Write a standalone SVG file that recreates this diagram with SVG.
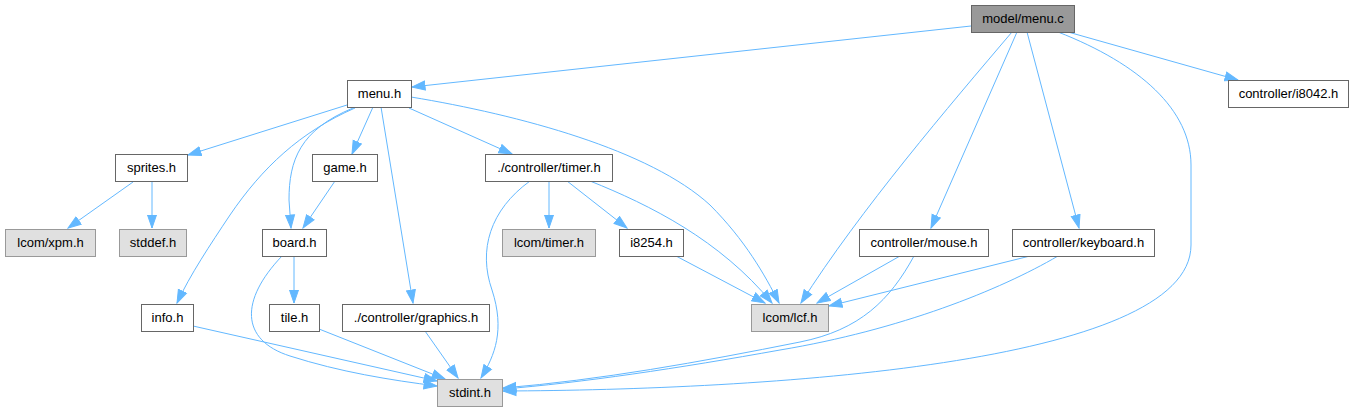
<svg xmlns="http://www.w3.org/2000/svg" width="1354" height="411" viewBox="0 0 1354 411">
<style>
.n rect{fill:#ffffff;stroke:#666666;stroke-width:1}
.g rect{fill:#e0e0e0;stroke:#999999;stroke-width:1}
.r rect{fill:#999999;stroke:#666666;stroke-width:1}
text{font-family:"Liberation Sans",Arial,sans-serif;font-size:13px;fill:#000000;text-anchor:middle}
#edges path{fill:none;stroke:#63b8ff;stroke-width:1;marker-end:url(#ah)}
</style>
<defs>
<marker id="ah" markerUnits="userSpaceOnUse" markerWidth="15" markerHeight="12" viewBox="0 0 15 12" refX="13.5" refY="6" orient="auto">
<path d="M0.5,1.5 L13.5,6 L0.5,10.5 z" fill="#63b8ff" stroke="#63b8ff" stroke-width="1"/>
</marker>
</defs>
<rect x="0" y="0" width="1354" height="411" fill="#ffffff"/>
<g id="edges">
<path d="M971,26 L412,87"/>
<path d="M1012,32 C950,105 860,210 801,303"/>
<path d="M1017,32 L931,228"/>
<path d="M1027,32 L1079,228"/>
<path d="M1058,32 C1140,64 1191,110 1191,165 L1191,245 C1191,365 760,390 503,391"/>
<path d="M1068,32 L1238,80"/>
<path d="M347,105 L188,155"/>
<path d="M353,108 C300,130 289,160 289,200 L291,228"/>
<path d="M355,108 C300,132 262,168 230,215 C210,245 190,275 177,303"/>
<path d="M373,107 L352,154"/>
<path d="M381,107 L413,303"/>
<path d="M409,108 L512,154"/>
<path d="M411,97 C520,115 650,150 710,205 C745,240 765,275 779,303"/>
<path d="M133,182 L68,228"/>
<path d="M152,181 L152,228"/>
<path d="M335,181 L303,228"/>
<path d="M294,256 L294,303"/>
<path d="M282,256 C240,300 240,340 290,356 C340,372 390,380 437,386"/>
<path d="M193,326 L437,381"/>
<path d="M319,329 L445,379"/>
<path d="M425,331 L458,378"/>
<path d="M549,181 L549,228"/>
<path d="M567,181 L627,228"/>
<path d="M590,181 C650,205 720,240 772,303"/>
<path d="M530,181 C490,210 478,250 492,290 C505,330 495,355 481,378"/>
<path d="M676,256 L765,303"/>
<path d="M900,256 L817,303"/>
<path d="M914,256 C890,300 860,330 800,342 C700,362 600,380 503,388"/>
<path d="M1030,256 L829,306"/>
<path d="M1058,256 C1000,290 900,330 780,350 C680,368 580,383 503,389"/>
</g>
<g id="menu_c" class="r"><rect x="971.5" y="5.5" width="103" height="27"/><text x="1023" y="23">model/menu.c</text></g>
<g id="menu_h" class="n"><rect x="347.5" y="80.5" width="64" height="27"/><text x="379.5" y="98">menu.h</text></g>
<g id="i8042_h" class="n"><rect x="1228.5" y="80.5" width="120" height="27"/><text x="1288.5" y="98">controller/i8042.h</text></g>
<g id="sprites_h" class="n"><rect x="115.5" y="154.5" width="72" height="27"/><text x="151.5" y="172">sprites.h</text></g>
<g id="game_h" class="n"><rect x="312.5" y="154.5" width="65" height="27"/><text x="345" y="172">game.h</text></g>
<g id="timer_h" class="n"><rect x="485.5" y="154.5" width="127" height="27"/><text x="549" y="172">./controller/timer.h</text></g>
<g id="xpm_h" class="g"><rect x="5.5" y="229.5" width="90" height="27"/><text x="50.5" y="247">lcom/xpm.h</text></g>
<g id="stddef_h" class="g"><rect x="119.5" y="229.5" width="67" height="27"/><text x="153" y="247">stddef.h</text></g>
<g id="board_h" class="n"><rect x="262.5" y="229.5" width="64" height="27"/><text x="294.5" y="247">board.h</text></g>
<g id="lcom_timer_h" class="g"><rect x="502.5" y="229.5" width="93" height="27"/><text x="549" y="247">lcom/timer.h</text></g>
<g id="i8254_h" class="n"><rect x="619.5" y="229.5" width="64" height="27"/><text x="651.5" y="247">i8254.h</text></g>
<g id="mouse_h" class="n"><rect x="859.5" y="229.5" width="129" height="27"/><text x="924" y="247">controller/mouse.h</text></g>
<g id="keyboard_h" class="n"><rect x="1012.5" y="229.5" width="142" height="27"/><text x="1083.5" y="247">controller/keyboard.h</text></g>
<g id="info_h" class="n"><rect x="141.5" y="304.5" width="52" height="27"/><text x="167.5" y="322">info.h</text></g>
<g id="tile_h" class="n"><rect x="269.5" y="304.5" width="50" height="27"/><text x="294.5" y="322">tile.h</text></g>
<g id="graphics_h" class="n"><rect x="342.5" y="304.5" width="147" height="27"/><text x="416" y="322">./controller/graphics.h</text></g>
<g id="lcf_h" class="g"><rect x="751.5" y="304.5" width="77" height="27"/><text x="790" y="322">lcom/lcf.h</text></g>
<g id="stdint_h" class="g"><rect x="437.5" y="379.5" width="65" height="27"/><text x="470" y="397">stdint.h</text></g>
</svg>
